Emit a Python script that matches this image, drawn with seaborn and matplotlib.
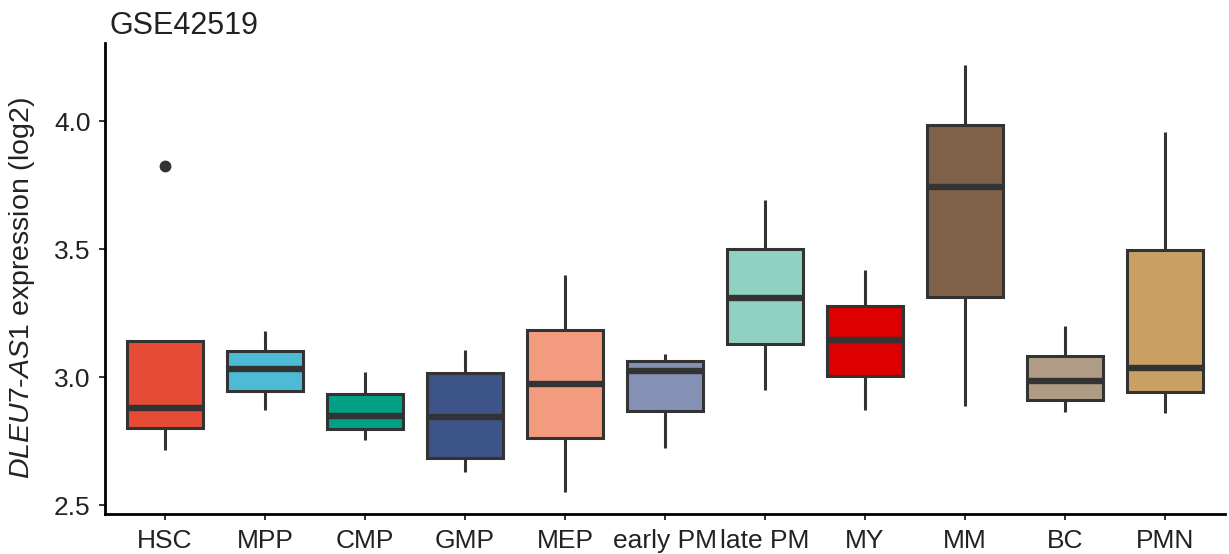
import numpy as np
import pandas as pd
import seaborn as sns
import matplotlib.pyplot as plt

# five-number summaries (log2 expression)
cells = ["HSC", "MPP", "CMP", "GMP", "MEP", "early PM", "late PM", "MY", "MM", "BC", "PMN"]
whisker_low = [2.715, 2.872, 2.754, 2.630, 2.552, 2.723, 2.950, 2.872, 2.885, 2.865, 2.859]
q1 = [2.802, 2.946, 2.797, 2.684, 2.762, 2.869, 3.130, 3.005, 3.311, 2.911, 2.941]
median = [2.878, 3.032, 2.848, 2.845, 2.973, 3.024, 3.309, 3.143, 3.743, 2.985, 3.035]
q3 = [3.142, 3.102, 2.934, 3.016, 3.185, 3.061, 3.500, 3.279, 3.983, 3.083, 3.498]
whisker_high = [3.142, 3.181, 3.020, 3.104, 3.400, 3.091, 3.691, 3.417, 4.221, 3.198, 3.958]
outliers = {"HSC": [3.824]}

colors = ["#E64B35", "#4DBBD5", "#00A087", "#3C5488", "#F39B7F", "#8491B4",
          "#91D1C2", "#DC0000", "#7E6148", "#B09C85", "#C9A062"]

# build 5 points per group so the quartiles come out exactly;
# when a group has an outlier it takes the place of the top whisker point
rows = []
for i, c in enumerate(cells):
    top = outliers.get(c, [whisker_high[i]])
    for v in [whisker_low[i], q1[i], median[i], q3[i]] + top:
        rows.append((c, v))
df = pd.DataFrame(rows, columns=["cell", "expr"])

sns.set_style("white")
plt.rcParams["font.family"] = ["Liberation Sans", "DejaVu Sans"]
plt.rcParams["mathtext.fontset"] = "custom"
plt.rcParams["mathtext.it"] = "Liberation Sans:italic"
plt.rcParams["mathtext.rm"] = "Liberation Sans"

fig = plt.figure(figsize=(12.29, 5.54), dpi=100)
ax = fig.add_axes([105 / 1229, 40 / 554, 1120 / 1229, 471 / 554])

line_col = "#333333"
sns.boxplot(data=df, x="cell", y="expr", hue="cell", order=cells, hue_order=cells,
            palette=colors, saturation=1, legend=False, width=0.76,
            linecolor=line_col, linewidth=2.2, showcaps=False, whis=1.5,
            medianprops=dict(color=line_col, linewidth=4.6),
            whiskerprops=dict(color=line_col, linewidth=2.2),
            flierprops=dict(marker="o", markersize=7.5, markerfacecolor=line_col,
                            markeredgecolor=line_col),
            ax=ax)

ax.set_xlim(-0.6, len(cells) - 0.4)
ax.set_ylim(2.465, 4.305)
ax.set_yticks([2.5, 3.0, 3.5, 4.0])
ax.set_yticklabels(["2.5", "3.0", "3.5", "4.0"])

for side in ["top", "right"]:
    ax.spines[side].set_visible(False)
for side in ["left", "bottom"]:
    ax.spines[side].set_color("black")
    ax.spines[side].set_linewidth(2)

ax.tick_params(axis="both", which="major", length=4.5, width=1.4, color="#333333",
               labelsize=19, labelcolor="#222222", pad=6, left=True, bottom=True)

ax.set_xlabel("")
ax.set_ylabel(r"$\mathit{DLEU7}$-$\mathit{AS1}$ expression (log2)", fontsize=20.5,
              color="#222222")
ax.yaxis.set_label_coords(-0.061, 0.48)

ax.text(0.004, 1.02, "GSE42519", transform=ax.transAxes, fontsize=22,
        ha="left", va="baseline", color="#222222")

fig.savefig("out.png", dpi=100)
